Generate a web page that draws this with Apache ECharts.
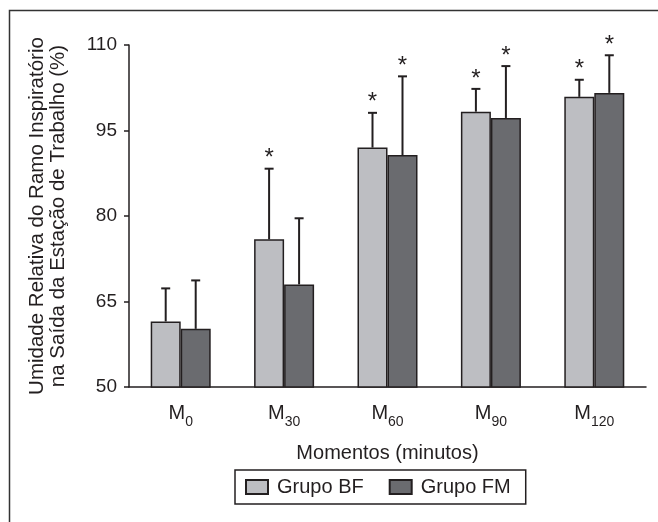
<!DOCTYPE html>
<html>
<head>
<meta charset="utf-8">
<script src="https://cdn.jsdelivr.net/npm/echarts@6/dist/echarts.min.js"></script>
<style>
html,body{margin:0;padding:0;background:#fff;}
#chart{width:658px;height:522px;}
</style>
</head>
<body>
<div id="chart"></div>
<script>
// ---- data ----
var categorySubs = ['0', '30', '60', '90', '120'];
var yTicks = [50, 65, 80, 95, 110];
var bfMean = [61.5, 75.9, 92.0, 98.3, 100.9];
var bfUpper = [67.3, 88.3, 98.1, 102.3, 103.9];
var fmMean = [60.2, 68.0, 90.7, 97.2, 101.6];
var fmUpper = [68.7, 79.6, 104.5, 106.3, 108.2];
var bfStar = [false, true, true, true, true];
var fmStar = [false, false, true, true, true];
var seriesNames = ['Grupo BF', 'Grupo FM'];

// ---- styles ----
var FONT = '"Liberation Sans", Arial, Helvetica, sans-serif';
var INK = '#231f20';
var BAR_W = 30;
var categories = categorySubs.map(function (s) { return 'M' + s; });

function errData(mean, upper, star) {
  return mean.map(function (m, i) { return [i, m, upper[i], star[i] ? 1 : 0]; });
}

function makeErr(side) {
  return function (params, api) {
    var i = api.value(0);
    var top = api.coord([i, api.value(2)]);
    var base = api.coord([i, api.value(1)]);
    var x = top[0] + side * BAR_W / 2;
    var children = [
      { type: 'line', shape: { x1: x, y1: base[1], x2: x, y2: top[1] }, style: { stroke: INK, lineWidth: 2 } },
      { type: 'line', shape: { x1: x - 4.5, y1: top[1], x2: x + 4.5, y2: top[1] }, style: { stroke: INK, lineWidth: 2 } }
    ];
    if (api.value(3)) {
      children.push({ type: 'text', style: { x: x, y: top[1] + 2, text: '*', fontSize: 24, fontFamily: FONT, fill: INK, align: 'center', verticalAlign: 'bottom' } });
    }
    return { type: 'group', children: children };
  };
}

var chart = echarts.init(document.getElementById('chart'));
chart.setOption({
  backgroundColor: '#fff',
  animation: false,
  textStyle: { fontFamily: FONT, color: INK },
  graphic: [{
    type: 'rect', shape: { x: 9.5, y: 10.5, width: 800, height: 700 },
    style: { fill: 'none', stroke: '#333', lineWidth: 1.5 }, silent: true
  }],
  grid: { left: 129, right: 12, top: 45, bottom: 135 },
  legend: {
    data: seriesNames,
    left: 235, top: 470,
    orient: 'horizontal',
    borderColor: INK, borderWidth: 1.5,
    padding: [7, 15, 7, 10],
    itemWidth: 22, itemHeight: 14, itemGap: 25,
    icon: 'rect',
    textStyle: { fontSize: 20, fontFamily: FONT, color: INK, padding: [0, 0, 0, 4] }
  },
  xAxis: {
    type: 'category',
    data: categories,
    name: 'Momentos (minutos)',
    nameLocation: 'middle',
    nameGap: 56,
    nameTextStyle: { fontSize: 20, fontFamily: FONT, color: INK },
    axisLine: { lineStyle: { color: INK, width: 1.5 } },
    axisTick: { length: 5, lineStyle: { color: INK, width: 1.5 } },
    axisLabel: {
      margin: 16,
      formatter: function (v, i) { return '{m|M}{s|' + categorySubs[i] + '}'; },
      rich: {
        m: { fontSize: 20, fontFamily: FONT, color: INK, verticalAlign: 'top', lineHeight: 20 },
        s: { fontSize: 14, fontFamily: FONT, color: INK, verticalAlign: 'bottom', padding: [12, 0, 0, 0] }
      }
    }
  },
  yAxis: {
    type: 'value',
    min: yTicks[0], max: yTicks[yTicks.length - 1], interval: yTicks[1] - yTicks[0],
    name: 'Umidade Relativa do Ramo Inspiratório\nna Saída da Estação de Trabalho (%)',
    nameLocation: 'middle',
    nameGap: 60,
    nameTextStyle: { fontSize: 20.5, fontFamily: FONT, color: INK, lineHeight: 21 },
    axisLine: { show: true, lineStyle: { color: INK, width: 1.5 } },
    axisTick: { show: true, length: 5, lineStyle: { color: INK, width: 1.5 } },
    axisLabel: { fontSize: 19, fontFamily: FONT, color: INK, margin: 12 },
    splitLine: { show: false }
  },
  series: [
    { name: seriesNames[0], type: 'bar', data: bfMean, barWidth: BAR_W, barGap: '0%',
      itemStyle: { color: '#bdbec2', borderColor: INK, borderWidth: 1.5 } },
    { name: seriesNames[1], type: 'bar', data: fmMean, barWidth: BAR_W, barGap: '0%',
      itemStyle: { color: '#6a6b6f', borderColor: INK, borderWidth: 1.5 } },
    { type: 'custom', renderItem: makeErr(-1), data: errData(bfMean, bfUpper, bfStar), z: 5, silent: true },
    { type: 'custom', renderItem: makeErr(1), data: errData(fmMean, fmUpper, fmStar), z: 5, silent: true }
  ]
});
</script>
</body>
</html>
